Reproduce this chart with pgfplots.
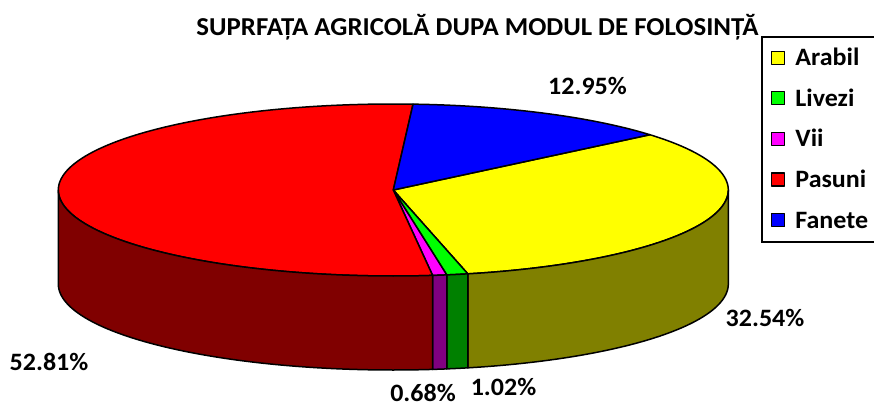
\documentclass[border=0pt]{standalone}
\usepackage{fontspec}
\usepackage{pgfplots}
\usepackage{pgfplotstable}
\pgfplotsset{compat=1.18}
\newfontfamily\cf[FakeStretch=1.04]{Carlito}

\definecolor{cArabil}{RGB}{255,255,0}
\definecolor{sArabil}{RGB}{128,128,0}
\definecolor{cLivezi}{RGB}{0,255,0}
\definecolor{sLivezi}{RGB}{0,128,0}
\definecolor{cVii}{RGB}{255,0,255}
\definecolor{sVii}{RGB}{128,0,128}
\definecolor{cPasuni}{RGB}{255,0,0}
\definecolor{sPasuni}{RGB}{128,0,0}
\definecolor{cFanete}{RGB}{0,0,255}

\pgfplotstableread{
name pct
Arabil 32.54
Livezi 1.02
Vii 0.68
Pasuni 52.81
Fanete 12.95
}\piedata

\pgfplotstablegetelem{0}{pct}\of\piedata \let\pA\pgfplotsretval
\pgfplotstablegetelem{1}{pct}\of\piedata \let\pL\pgfplotsretval
\pgfplotstablegetelem{2}{pct}\of\piedata \let\pV\pgfplotsretval
\pgfplotstablegetelem{3}{pct}\of\piedata \let\pP\pgfplotsretval
\pgfplotstablegetelem{4}{pct}\of\piedata \let\pF\pgfplotsretval

\def\cx{393.3}\def\cy{190}\def\rx{335}\def\ry{86}\def\dz{94}
\pgfmathsetmacro\aA{40}
\pgfmathsetmacro\bA{\aA-3.6*\pA}
\pgfmathsetmacro\bL{\bA-3.6*\pL}
\pgfmathsetmacro\bV{\bL-3.6*\pV}
\pgfmathsetmacro\bP{\bV-3.6*\pP}
\pgfmathsetmacro\bF{\bP-3.6*\pF}

\newcommand\topslice[3]{%
\addplot[fill=#1, draw=black, line width=1.5pt, line join=round, domain=0:1, samples=150, variable=\t]
 ({\cx+\rx*cos((#2)+((#3)-(#2))*\t)}, {\cy-\ry*sin((#2)+((#3)-(#2))*\t)}) -- (axis cs:\cx,\cy) -- cycle;
}
\newcommand\sideslice[3]{%
\addplot[forget plot, fill=#1, draw=black, line width=1.5pt, line join=round, domain=0:3, samples=301, variable=\u]
 ({\cx+\rx*cos((#2)+((#3)-(#2))*(min(\u,1)-max(\u-2,0)))},
  {\cy-\ry*sin((#2)+((#3)-(#2))*(min(\u,1)-max(\u-2,0)))+\dz*min(max(\u-1,0),1)}) -- cycle;
}

\begin{document}
\begin{tikzpicture}
\useasboundingbox (0,0) rectangle (874pt,406pt);
\begin{axis}[
  at={(0,0)}, anchor=south west,
  width=874pt, height=406pt, scale only axis,
  xmin=0, xmax=874, ymin=0, ymax=406, y dir=reverse,
  hide axis, clip=false,
  legend cell align=left,
  legend style={at={(axis cs:762,37)}, anchor=north west, draw=none, fill=none,
    inner xsep=9pt, inner ysep=12.5pt, row sep=24.6pt, column sep=0pt,
    font=\cf\bfseries\fontsize{25}{29}\selectfont,
    nodes={text height=16pt, text depth=0pt, inner xsep=10pt, inner ysep=0pt}},
  legend image code/.code={\draw[#1, draw=black, line width=1.2pt] (0pt,-6.5pt) rectangle (13pt,6.5pt);},
]
\topslice{cArabil}{\aA}{\bA}
\addlegendentry{Arabil}
\topslice{cLivezi}{\bA}{\bL}
\addlegendentry{Livezi}
\topslice{cVii}{\bL}{\bV}
\addlegendentry{Vii}
\topslice{cPasuni}{\bV}{\bP}
\addlegendentry{Pasuni}
\topslice{cFanete}{\bP}{\bF}
\addlegendentry{Fanete}

\sideslice{sArabil}{0}{\bA}
\sideslice{sLivezi}{\bA}{\bL}
\sideslice{sVii}{\bL}{\bV}
\sideslice{sPasuni}{\bV}{-180}

\draw[line width=1.2pt] (axis cs:874,37) -- (axis cs:762,37) -- (axis cs:762,242) -- (axis cs:874,242);

\begin{scope}[every node/.style={font=\cf\bfseries\fontsize{25}{29}\selectfont, anchor=base, inner sep=0pt}]
\node[font=\cf\bfseries\fontsize{25.8}{29}\selectfont] at (axis cs:477.5,36) {SUPRFAȚA AGRICOLĂ DUPA MODUL DE FOLOSINȚĂ};
\node at (axis cs:587.5,95) {12.95\%};
\node at (axis cs:765,326.5) {32.54\%};
\node at (axis cs:49,370) {52.81\%};
\node at (axis cs:423,401) {0.68\%};
\node at (axis cs:503.5,395.5) {1.02\%};
\end{scope}
\end{axis}
\end{tikzpicture}
\end{document}
